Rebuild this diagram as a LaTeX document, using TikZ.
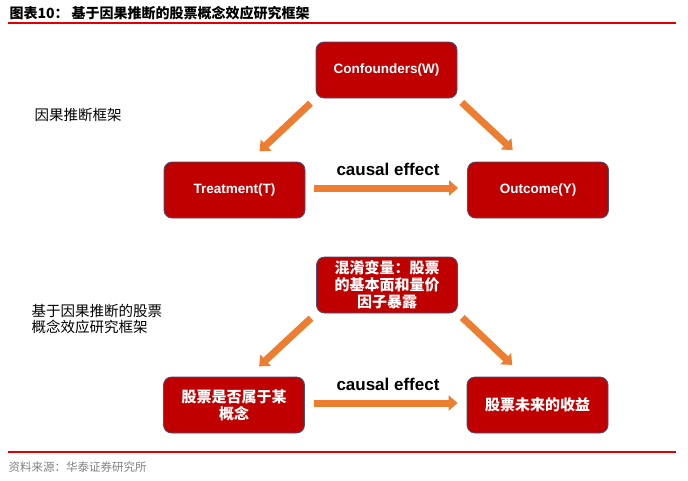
\documentclass[tikz,border=0pt]{standalone}
\usepackage{fontspec}
\usepackage{tikz}
\setmainfont{Liberation Sans}
\newfontfamily\cjk{Noto Sans CJK SC}
\usetikzlibrary{arrows.meta}
\definecolor{rouge}{HTML}{C00000}
\definecolor{bord}{HTML}{41557A}
\definecolor{orangef}{HTML}{ED7D31}
\definecolor{filet}{HTML}{E00000}

\begin{document}
\begin{tikzpicture}[x=1pt, y=-1pt,
  box/.style={draw=bord, line width=0.8pt, fill=rouge, rounded corners=8pt,
    minimum width=141pt, minimum height=56pt, inner sep=0pt, align=center,
    text=white, font=\fontsize{13.5}{16}\selectfont\bfseries},
  boxcn/.style={box, font=\cjk\fontsize{15}{17}\selectfont\bfseries},
  flow/.style={orangef, line width=7pt, -{Triangle[width=15pt,length=9pt]}},
  causal/.style={font=\fontsize{17}{17}\selectfont\bfseries},
  side/.style={anchor=west, align=left, font=\cjk\fontsize{14.5}{16}\selectfont}]
\useasboundingbox (0,0) rectangle (688,480);
% title and rules
\node[anchor=west, font=\cjk\fontsize{14}{14}\selectfont\bfseries] (title) at (6,13)
  {图表10：\hspace{3pt}基于因果推断的股票概念效应研究框架};
\draw[filet, line width=2pt] (8,23) -- (676,23);
\draw[filet, line width=2pt] (8,452) -- (676,452);
\node[anchor=west, text=gray, font=\cjk\fontsize{11.5}{12}\selectfont] (source) at (5,467)
  {资料来源：华泰证券研究所};
%% framework 1
\node[side] (lab1) at (31,115) {因果推断框架};
\node[box] (conf1) at (386.5,70) {Confounders(W)};
\node[box] (treat1) at (234.5,190) {Treatment(T)};
\node[box] (out1) at (538,190) {Outcome(Y)};
\node[causal] (ce1) at (388,169) {causal effect};
\draw[flow, shorten <=7pt, shorten >=15pt] (conf1.south west) -- ([xshift=85]treat1.north west);
\draw[flow, shorten <=6pt, shorten >=17pt] (conf1.south east) -- ([xshift=58]out1.north west);
\draw[flow, shorten <=9pt, shorten >=9pt] ([yshift=2]treat1.east) -- ([yshift=2]out1.west);
%% framework 2
\node[side] (lab2) at (28,319) {基于因果推断的股票\\概念效应研究框架};
\node[boxcn] (conf2) at (387,285) {混淆变量：股票\\的基本面和量价\\因子暴露};
\node[boxcn] (treat2) at (234,405) {股票是否属于某\\概念};
\node[boxcn] (out2) at (537.5,405) {股票未来的收益};
\node[causal] (ce2) at (388,384) {causal effect};
\draw[flow, shorten <=7pt, shorten >=15pt] (conf2.south west) -- ([xshift=85]treat2.north west);
\draw[flow, shorten <=6pt, shorten >=17pt] (conf2.south east) -- ([xshift=58]out2.north west);
\draw[flow, shorten <=9pt, shorten >=9pt] ([yshift=2]treat2.east) -- ([yshift=2]out2.west);
\end{tikzpicture}
\end{document}
